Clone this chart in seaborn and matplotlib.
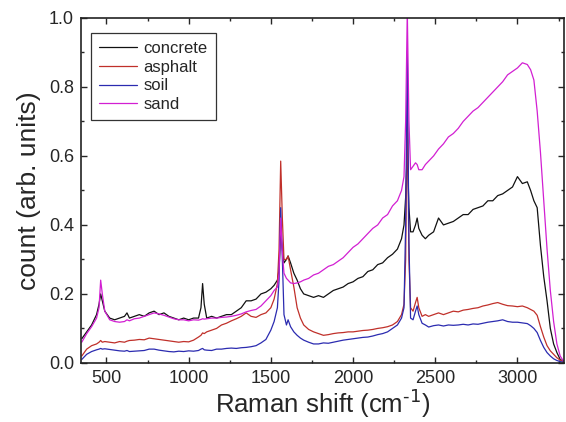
import matplotlib
matplotlib.use("Agg")
import matplotlib.pyplot as plt
import numpy as np
import pandas as pd
import seaborn as sns

# Raman shift grid (cm^-1), denser near the sharp peaks
shift = [
    350, 380, 410, 440, 455, 465, 475, 490, 520, 550,
    580, 610, 625, 640, 670, 700, 730, 760, 790, 820,
    850, 880, 910, 940, 970, 1000, 1030, 1060, 1075, 1085,
    1095, 1110, 1140, 1170, 1200, 1230, 1260, 1290, 1320, 1350,
    1380, 1410, 1440, 1470, 1500, 1520, 1540, 1550, 1560, 1570,
    1580, 1595, 1605, 1620, 1640, 1660, 1680, 1700, 1730, 1760,
    1790, 1820, 1850, 1880, 1910, 1940, 1970, 2000, 2030, 2060,
    2090, 2120, 2150, 2180, 2210, 2240, 2270, 2295, 2310, 2320,
    2330, 2340, 2350, 2365, 2380, 2390, 2400, 2420, 2440, 2460,
    2490, 2520, 2550, 2580, 2610, 2640, 2670, 2700, 2730, 2760,
    2790, 2820, 2850, 2880, 2910, 2940, 2970, 3000, 3030, 3060,
    3080, 3100, 3120, 3140, 3160, 3180, 3200, 3220, 3240, 3260,
    3280, 3295,
]

concrete = [
    0.07, 0.09, 0.11, 0.14, 0.17, 0.20, 0.18, 0.15, 0.13, 0.125,
    0.13, 0.135, 0.145, 0.13, 0.135, 0.14, 0.135, 0.145, 0.15, 0.14,
    0.145, 0.135, 0.13, 0.125, 0.13, 0.125, 0.13, 0.13, 0.16, 0.23,
    0.17, 0.13, 0.135, 0.13, 0.135, 0.14, 0.14, 0.15, 0.16, 0.18,
    0.18, 0.185, 0.20, 0.205, 0.215, 0.225, 0.24, 0.27, 0.38, 0.33,
    0.29, 0.30, 0.31, 0.29, 0.26, 0.24, 0.215, 0.20, 0.195, 0.19,
    0.195, 0.19, 0.20, 0.21, 0.215, 0.22, 0.23, 0.235, 0.245, 0.25,
    0.265, 0.27, 0.285, 0.29, 0.305, 0.315, 0.33, 0.36, 0.40, 0.48,
    0.62, 0.45, 0.38, 0.38, 0.40, 0.42, 0.39, 0.37, 0.36, 0.37,
    0.38, 0.42, 0.40, 0.405, 0.41, 0.42, 0.43, 0.43, 0.445, 0.45,
    0.455, 0.47, 0.47, 0.485, 0.49, 0.50, 0.51, 0.54, 0.52, 0.525,
    0.50, 0.47, 0.45, 0.34, 0.25, 0.18, 0.10, 0.055, 0.03, 0.01,
    0.005, 0.0,
]

asphalt = [
    0.02, 0.04, 0.05, 0.055, 0.06, 0.065, 0.06, 0.062, 0.06, 0.058,
    0.062, 0.06, 0.063, 0.065, 0.066, 0.068, 0.067, 0.072, 0.07, 0.068,
    0.066, 0.064, 0.062, 0.06, 0.062, 0.061, 0.066, 0.075, 0.08, 0.087,
    0.085, 0.09, 0.095, 0.10, 0.11, 0.115, 0.122, 0.128, 0.135, 0.145,
    0.135, 0.132, 0.14, 0.145, 0.16, 0.185, 0.23, 0.33, 0.585, 0.42,
    0.30, 0.30, 0.31, 0.27, 0.22, 0.16, 0.13, 0.11, 0.097, 0.09,
    0.085, 0.08, 0.082, 0.085, 0.087, 0.088, 0.09, 0.09, 0.092, 0.094,
    0.095, 0.097, 0.10, 0.102, 0.105, 0.11, 0.12, 0.14, 0.17, 0.30,
    0.76, 0.30, 0.16, 0.15, 0.175, 0.19, 0.16, 0.135, 0.14, 0.135,
    0.14, 0.145, 0.14, 0.145, 0.15, 0.148, 0.153, 0.155, 0.158, 0.16,
    0.165, 0.168, 0.172, 0.175, 0.17, 0.166, 0.165, 0.163, 0.165, 0.16,
    0.155, 0.15, 0.138, 0.105, 0.075, 0.05, 0.035, 0.025, 0.015, 0.008,
    0.004, 0.0,
]

soil = [
    0.01, 0.025, 0.033, 0.038, 0.04, 0.042, 0.04, 0.041, 0.039, 0.037,
    0.035, 0.034, 0.036, 0.033, 0.034, 0.035, 0.036, 0.04, 0.04, 0.037,
    0.035, 0.033, 0.032, 0.034, 0.033, 0.035, 0.034, 0.036, 0.04, 0.042,
    0.038, 0.037, 0.036, 0.04, 0.04, 0.042, 0.043, 0.042, 0.044, 0.045,
    0.047, 0.05, 0.058, 0.068, 0.095, 0.12, 0.16, 0.24, 0.45, 0.30,
    0.14, 0.11, 0.125, 0.105, 0.09, 0.08, 0.072, 0.066, 0.06, 0.055,
    0.055, 0.058, 0.057, 0.06, 0.063, 0.066, 0.068, 0.07, 0.072, 0.074,
    0.075, 0.078, 0.082, 0.085, 0.09, 0.10, 0.11, 0.13, 0.16, 0.40,
    0.905, 0.35, 0.13, 0.125, 0.15, 0.165, 0.14, 0.115, 0.11, 0.104,
    0.108, 0.11, 0.107, 0.11, 0.109, 0.11, 0.112, 0.11, 0.113, 0.112,
    0.115, 0.118, 0.12, 0.122, 0.125, 0.12, 0.118, 0.118, 0.116, 0.114,
    0.108, 0.10, 0.088, 0.065, 0.045, 0.03, 0.02, 0.012, 0.007, 0.004,
    0.002, 0.0,
]

sand = [
    0.06, 0.085, 0.105, 0.13, 0.16, 0.24, 0.20, 0.15, 0.125, 0.12,
    0.118, 0.12, 0.125, 0.122, 0.128, 0.13, 0.135, 0.14, 0.145, 0.142,
    0.138, 0.133, 0.128, 0.125, 0.125, 0.122, 0.125, 0.124, 0.126, 0.128,
    0.127, 0.128, 0.13, 0.13, 0.132, 0.133, 0.135, 0.138, 0.142, 0.148,
    0.152, 0.155, 0.165, 0.18, 0.195, 0.21, 0.22, 0.26, 0.42, 0.32,
    0.26, 0.245, 0.24, 0.232, 0.23, 0.232, 0.235, 0.24, 0.245, 0.255,
    0.26, 0.27, 0.28, 0.285, 0.295, 0.305, 0.32, 0.335, 0.345, 0.36,
    0.375, 0.39, 0.40, 0.42, 0.43, 0.455, 0.47, 0.50, 0.54, 0.70,
    1.02, 0.70, 0.56, 0.57, 0.58, 0.575, 0.56, 0.56, 0.575, 0.585,
    0.60, 0.62, 0.635, 0.655, 0.665, 0.68, 0.70, 0.715, 0.73, 0.74,
    0.755, 0.77, 0.785, 0.80, 0.815, 0.835, 0.845, 0.855, 0.87, 0.865,
    0.85, 0.82, 0.73, 0.61, 0.47, 0.33, 0.21, 0.12, 0.055, 0.02,
    0.005, 0.0,
]

samples = ["concrete", "asphalt", "soil", "sand"]
colors = {"concrete": "#111111", "asphalt": "#c0302a", "soil": "#2b2bb0", "sand": "#d21fd2"}

series = {"concrete": concrete, "asphalt": asphalt, "soil": soil, "sand": sand}
for name, vals in series.items():
    assert len(vals) == len(shift), (name, len(vals), len(shift))

df = pd.concat(
    [pd.DataFrame({"shift": shift, "count": series[s], "sample": s}) for s in samples],
    ignore_index=True,
)

sns.set_style("ticks")
plt.rcParams["font.family"] = ["Liberation Sans", "DejaVu Sans"]
plt.rcParams["mathtext.default"] = "regular"

fig = plt.figure(figsize=(5.66, 4.22), dpi=100)
ax = fig.add_axes([0.143, 0.14, 0.854, 0.8175])

sns.lineplot(data=df, x="shift", y="count", hue="sample", hue_order=samples,
             palette=colors, sort=False, estimator=None, linewidth=0.9, ax=ax)

ax.set_xlim(345, 3285)
ax.set_ylim(0, 1.0)
ax.set_xticks([500, 1000, 1500, 2000, 2500, 3000])
ax.set_xticks(np.arange(750, 3300, 500), minor=True)
ax.set_yticks([0.0, 0.2, 0.4, 0.6, 0.8, 1.0])
ax.set_yticks([0.1, 0.3, 0.5, 0.7, 0.9], minor=True)
ax.yaxis.set_major_formatter(matplotlib.ticker.FormatStrFormatter("%.1f"))
ax.tick_params(which="both", direction="in", top=True, right=True, labelsize=13, width=1.0)
ax.tick_params(which="major", length=4.5, pad=5)
ax.tick_params(which="minor", length=2.5)
for sp in ax.spines.values():
    sp.set_linewidth(1.2)
    sp.set_color("#222222")

ax.set_xlabel(r"Raman shift (cm$^{\text{-1}}$)", fontsize=18.5, labelpad=0.5)
ax.set_ylabel("count (arb. units)", fontsize=19, labelpad=6)

leg = ax.legend(loc="upper left", bbox_to_anchor=(0.02, 0.957), borderaxespad=0,
                fontsize=12, handlelength=2.3, handletextpad=0.35, labelspacing=0.22,
                borderpad=0.5, fancybox=False, framealpha=1, edgecolor="#333333")
leg.get_frame().set_linewidth(0.9)

fig.savefig("out.png", dpi=100)
